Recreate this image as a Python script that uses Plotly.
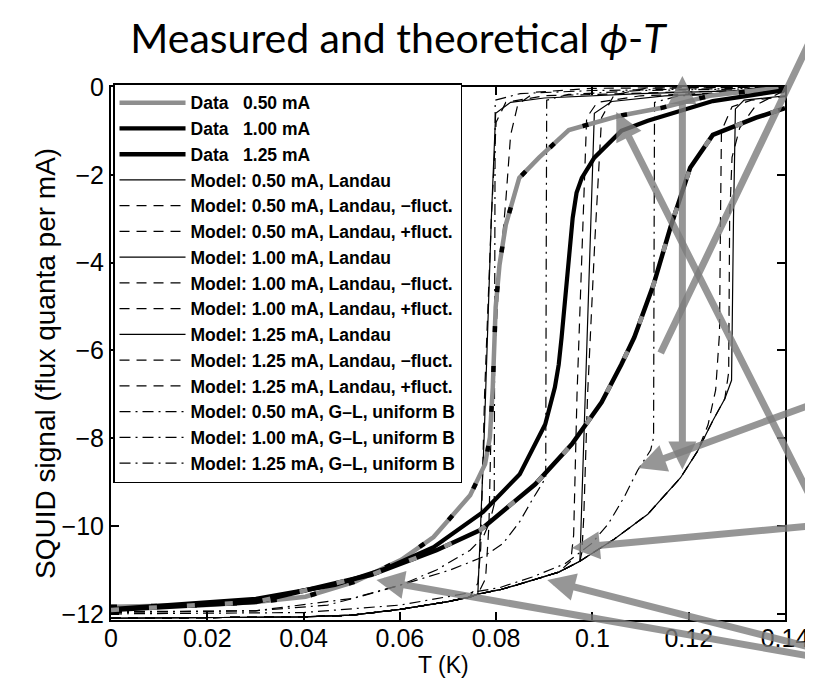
import plotly.graph_objects as go

# ---------------- axes ----------------
x_ticks = [0, 0.02, 0.04, 0.06, 0.08, 0.1, 0.12, 0.14]
x_tick_text = ["0", "0.02", "0.04", "0.06", "0.08", "0.1", "0.12", "0.14"]
y_ticks = [-12, -10, -8, -6, -4, -2, 0]
y_tick_text = ["\u221212", "\u221210", "\u22128", "\u22126", "\u22124", "\u22122", "0"]

# ---------------- measured data ----------------
data050_T = [0.0, 0.0199, 0.0301, 0.0404, 0.0506, 0.0603, 0.0670, 0.0746, 0.0777, 0.0787, 0.0793,
             0.0799, 0.0807, 0.0820, 0.0848, 0.0889, 0.0951, 0.1054, 0.1142, 0.1244, 0.1347, 0.14]
data050_y = [-11.84, -11.8, -11.73, -11.61, -11.27, -10.77, -10.25, -9.3, -8.59, -7.98, -6.84,
             -5.02, -4.05, -3.14, -2.07, -1.61, -0.98, -0.66, -0.48, -0.2, -0.07, 0.0]

data100_T = [0.0, 0.0301, 0.0465, 0.0568, 0.0670, 0.0773, 0.0849, 0.0902, 0.0922, 0.0930, 0.0936,
             0.0943, 0.0951, 0.0959, 0.0967, 0.0978, 0.1004, 0.1060, 0.1115, 0.1250, 0.14]
data100_y = [-11.89, -11.66, -11.34, -10.98, -10.48, -9.68, -8.82, -7.68, -6.84, -6.32, -5.7,
             -4.8, -3.89, -2.98, -2.41, -2.07, -1.61, -1.0, -0.77, -0.32, -0.07]

data125_T = [0.0, 0.0301, 0.0541, 0.0676, 0.0767, 0.0881, 0.0957, 0.1019, 0.1060, 0.1087,
             0.1127, 0.1162, 0.1203, 0.1250, 0.1340, 0.14]
data125_y = [-11.91, -11.73, -11.11, -10.55, -10.09, -9.05, -8.14, -7.18, -6.32, -5.7,
             -4.5, -3.2, -1.84, -1.09, -0.7, -0.48]

# ---------------- Landau model: common low-T branch ----------------
base_T = [0.0, 0.02, 0.04, 0.05, 0.06, 0.07, 0.0745, 0.0762, 0.0808, 0.084, 0.091, 0.093,
          0.0974, 0.1045, 0.1115, 0.1183, 0.1218, 0.125, 0.1275, 0.1289]
base_y = [-12.1, -12.09, -12.07, -12.03, -11.9, -11.72, -11.62, -11.55, -11.45, -11.35, -11.12, -11.05,
          -10.8, -10.3, -9.73, -8.9, -8.3, -7.6, -7.1, -6.68]

# upper branches (after leaving the common branch)
L050_T = [0.0775, 0.0790, 0.0799, 0.083, 0.09, 0.11, 0.14]
L050_y = [-8.0, -3.0, -0.6, -0.35, -0.25, -0.15, -0.05]
L050m_T = [0.0762, 0.0768, 0.0776, 0.0790, 0.0800, 0.082, 0.09, 0.14]
L050m_y = [-11.3, -10.5, -7.0, -3.0, -0.8, -0.35, -0.2, -0.05]
L050p_T = [0.0778, 0.0785, 0.0790, 0.0805, 0.082, 0.083, 0.0845, 0.088, 0.10, 0.14]
L050p_y = [-11.2, -10.0, -7.5, -4.5, -2.6, -1.1, -0.4, -0.12, -0.03, 0.0]

L100_T = [0.0985, 0.0997, 0.1004, 0.104, 0.115, 0.14]
L100_y = [-7.0, -2.5, -0.6, -0.33, -0.2, -0.08]
L100m_T = [0.0955, 0.0961, 0.0968, 0.0980, 0.0988, 0.101, 0.11, 0.14]
L100m_y = [-10.8, -10.2, -7.0, -3.0, -0.7, -0.35, -0.2, -0.08]
L100p_T = [0.0978, 0.0982, 0.0990, 0.1005, 0.1012, 0.1019, 0.1045, 0.111, 0.14]
L100p_y = [-10.6, -9.8, -7.0, -3.5, -2.0, -0.7, -0.18, -0.03, 0.0]

L125_T = [0.1293, 0.1297, 0.1315, 0.14]
L125_y = [-3.0, -0.5, -0.3, -0.2]
L125m_T = [0.124, 0.1256, 0.1264, 0.1266, 0.1268, 0.129, 0.133, 0.14]
L125m_y = [-7.7, -6.9, -5.6, -3.0, -1.0, -0.45, -0.3, -0.22]
L125p_T = [0.1283, 0.1285, 0.1290, 0.1306, 0.134, 0.1388, 0.14]
L125p_y = [-6.5, -3.0, -1.6, -0.93, -0.41, -0.14, -0.12]

# ---------------- G-L uniform B model ----------------
G050_T = [0.0, 0.03, 0.045, 0.052, 0.06, 0.0676, 0.0746, 0.0773, 0.0787, 0.0796, 0.0797, 0.0798,
          0.085, 0.10, 0.14]
G050_y = [-11.95, -11.93, -11.8, -11.6, -11.35, -11.0, -10.55, -10.25, -9.9, -9.5, -5.0, -0.3,
          -0.15, -0.08, -0.02]
G100_T = [0.0, 0.03, 0.05, 0.0615, 0.0705, 0.0773, 0.0814, 0.0849, 0.0875, 0.0903, 0.0904, 0.0905,
          0.095, 0.11, 0.14]
G100_y = [-11.97, -11.93, -11.65, -11.3, -11.0, -10.7, -10.4, -9.9, -9.4, -8.9, -4.0, -0.3,
          -0.17, -0.08, -0.03]
G125_T = [0.0, 0.04, 0.06, 0.0708, 0.0808, 0.0875, 0.0943, 0.0998, 0.1033, 0.1066, 0.1094, 0.1121,
          0.1127, 0.1128, 0.1129, 0.118, 0.14]
G125_y = [-12.0, -11.97, -11.8, -11.6, -11.4, -11.16, -10.86, -10.4, -9.95, -9.34, -8.73, -8.27,
          -7.98, -4.0, -0.35, -0.2, -0.1]

legend_names = [
    "Data\u00a0\u00a0\u00a00.50 mA", "Data\u00a0\u00a0\u00a01.00 mA", "Data\u00a0\u00a0\u00a01.25 mA",
    "Model: 0.50 mA, Landau", "Model: 0.50 mA, Landau, \u2212fluct.", "Model: 0.50 mA, Landau, +fluct.",
    "Model: 1.00 mA, Landau", "Model: 1.00 mA, Landau, \u2212fluct.", "Model: 1.00 mA, Landau, +fluct.",
    "Model: 1.25 mA, Landau", "Model: 1.25 mA, Landau, \u2212fluct.", "Model: 1.25 mA, Landau, +fluct.",
    "Model: 0.50 mA, G\u2013L, uniform B", "Model: 1.00 mA, G\u2013L, uniform B",
    "Model: 1.25 mA, G\u2013L, uniform B",
]


def branch(t_leave, up_T, up_y):
    """common low-T Landau branch up to t_leave, followed by the upper branch"""
    T = [t for t in base_T if t <= t_leave]
    y = [v for t, v in zip(base_T, base_y) if t <= t_leave]
    return T + up_T, y + up_y


DASH = "10px,7px"
DASHDOT = "11px,5px,2px,5px"
GRAYLINE = "#8e8e8e"

fig = go.Figure()

models = [
    (branch(0.0762, L050_T, L050_y), "solid"),
    (branch(0.0745, L050m_T, L050m_y), DASH),
    (branch(0.0762, L050p_T, L050p_y), DASH),
    (branch(0.0974, L100_T, L100_y), "solid"),
    (branch(0.093, L100m_T, L100m_y), DASH),
    (branch(0.0974, L100p_T, L100p_y), DASH),
    (branch(0.1289, L125_T, L125_y), "solid"),
    (branch(0.1218, L125m_T, L125m_y), DASH),
    (branch(0.1275, L125p_T, L125p_y), DASH),
    ((G050_T, G050_y), DASHDOT),
    ((G100_T, G100_y), DASHDOT),
    ((G125_T, G125_y), DASHDOT),
]
for i, ((T, y), dash) in enumerate(models):
    fig.add_trace(go.Scatter(x=T, y=y, mode="lines", name=legend_names[3 + i],
                             line=dict(color="black", width=1.2, dash=dash),
                             legendrank=10 + i))

# measured curves (drawn on top)
fig.add_trace(go.Scatter(x=data050_T, y=data050_y, mode="lines", name=legend_names[0],
                         line=dict(color=GRAYLINE, width=4.5), legendrank=1))
fig.add_trace(go.Scatter(x=data050_T, y=data050_y, mode="lines", showlegend=False, hoverinfo="skip",
                         line=dict(color="black", width=4.5, dash="6px,34px")))
fig.add_trace(go.Scatter(x=data100_T, y=data100_y, mode="lines", name=legend_names[1],
                         line=dict(color="black", width=4.2), legendrank=2))
fig.add_trace(go.Scatter(x=data125_T, y=data125_y, mode="lines", name=legend_names[2],
                         line=dict(color="black", width=4.5), legendrank=3))
fig.add_trace(go.Scatter(x=data125_T, y=data125_y, mode="lines", showlegend=False, hoverinfo="skip",
                         line=dict(color=GRAYLINE, width=4.5, dash="8px,30px")))

# ---------------- grey overlay arrows (pixel geometry of the slide) ----------------
L, R, TOP, BOT = 103, 786, 79, 612


def px2paper(px, py):
    return (px - L) / (R - L), (BOT - py) / (BOT - TOP)


ARROWC = "rgba(125,125,125,0.8)"
arrows = [
    # (head_x, head_y, tail_x, tail_y, head style, sides)
    (682, 68, 682, 463, 2, "end+start"),
    (615, 104, 835, 510, 2, "end"),
    (660, 345, 822, 10, 0, "end"),
    (637, 460, 835, 393, 2, "end"),
    (570, 540, 835, 517, 2, "end"),
    (545, 572, 835, 642, 2, "end"),
    (372, 572, 835, 650, 2, "end"),
]
for hx, hy, tx, ty, hd, side in arrows:
    px_, py_ = px2paper(hx, hy)
    fig.add_annotation(x=px_, y=py_, xref="paper", yref="paper", axref="pixel", ayref="pixel",
                       ax=tx - hx, ay=ty - hy, text="", showarrow=True, arrowhead=hd,
                       startarrowhead=hd, arrowside=side, arrowsize=0.8, startarrowsize=0.8,
                       arrowwidth=7, arrowcolor=ARROWC, standoff=0, startstandoff=0)

title_font = dict(family="Liberation Sans, Arial, sans-serif", size=28, color="black")

# axis titles (placed as in the slide)
yt_x, yt_y = px2paper(36, 355)
fig.add_annotation(x=yt_x, y=yt_y, xref="paper", yref="paper", showarrow=False, textangle=-90,
                   text="SQUID signal (flux quanta per mA)", xanchor="center", yanchor="middle",
                   font=title_font)
xt_x, xt_y = px2paper(440, 657)
fig.add_annotation(x=xt_x, y=xt_y, xref="paper", yref="paper", showarrow=False,
                   text="T (K)", xanchor="center", yanchor="middle",
                   font=dict(family="Liberation Sans, Arial, sans-serif", size=23, color="black"))

axis_font = dict(family="Liberation Sans, Arial, sans-serif", size=25, color="black")

fig.update_layout(
    width=813, height=678,
    margin=dict(l=L, r=813 - R, t=TOP, b=678 - BOT),
    paper_bgcolor="white", plot_bgcolor="white",
    title=dict(text="Measured and theoretical <i>\u03d5</i>-<i>T</i>", x=390 / 813, xanchor="center",
               y=1 - 31 / 678, yanchor="middle",
               font=dict(family="Lato, Open Sans, sans-serif", size=41, color="black")),
    xaxis=dict(range=[0, 0.14], tickvals=x_ticks, ticktext=x_tick_text, ticks="inside", ticklen=8,
               tickwidth=1.5, tickcolor="black", showline=True, linewidth=2, linecolor="black",
               mirror="ticks", showgrid=False, zeroline=False, tickfont=axis_font,
               ticklabelstandoff=-5),
    yaxis=dict(range=[-12.14, 0], tickvals=y_ticks, ticktext=y_tick_text, ticks="inside", ticklen=8,
               tickwidth=1.5, tickcolor="black", showline=True, linewidth=2, linecolor="black",
               mirror="ticks", showgrid=False, zeroline=False, tickfont=axis_font),
    legend=dict(x=0.003, y=1.007, xanchor="left", yanchor="top", bgcolor="white",
                bordercolor="black", borderwidth=1.5, itemwidth=66, maxheight=460,
                font=dict(family="Liberation Sans, Arial, sans-serif", size=17.5, color="black",
                          weight="bold"),
                tracegroupgap=0, itemclick=False),
    showlegend=True,
)

fig.write_html("out.html")
